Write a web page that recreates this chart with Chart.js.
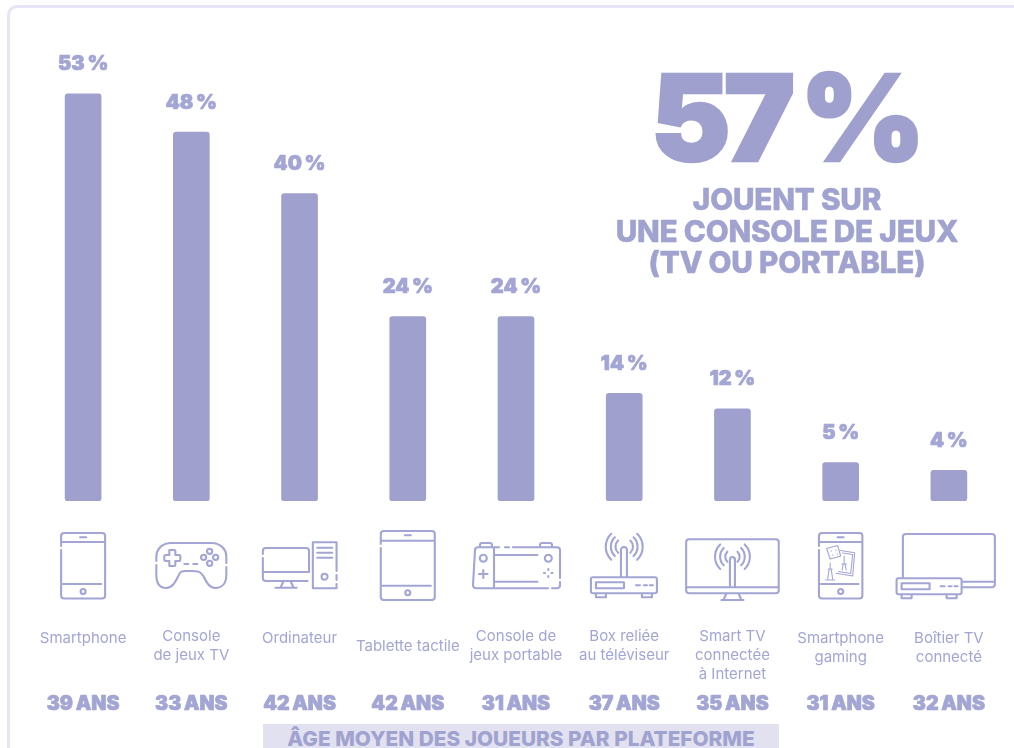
<!DOCTYPE html>
<html lang="fr">
<head>
<meta charset="utf-8">
<title>Plateformes de jeu</title>
<script src="https://cdn.jsdelivr.net/npm/chart.js@4/dist/chart.umd.min.js"></script>
<style>
  html, body { margin: 0; padding: 0; background: #fff; overflow: hidden; }
  #page { position: relative; width: 1014px; height: 748px; overflow: hidden; font-family: Inter, sans-serif; color: #A0A2CF; }
  #frame { position: absolute; left: 7px; top: 5px; width: 1100px; height: 900px; box-sizing: border-box;
           border: 3px solid #E6E5F3; border-radius: 10px; }
  canvas { position: absolute; left: 0; top: 0; }
  #big { position: absolute; left: 584.5px; width: 400px; top: 45px; text-align: center; font-weight: 900;
         font-size: 120px; line-height: 146px; letter-spacing: -7px; word-spacing: -5px; color: #9FA0CD; -webkit-text-stroke: 2.5px #9FA0CD; }
  #sub { position: absolute; left: 587px; width: 400px; top: 184px; text-align: center; font-weight: 800;
         font-size: 29.7px; line-height: 31.5px; letter-spacing: -0.2px; -webkit-text-stroke: 0.5px #A0A2CF; }
  #banner { position: absolute; left: 263px; top: 724px; width: 516px; height: 30px; background: #E1E1F0;
            text-align: center; font-weight: 800; font-size: 20.8px; line-height: 30px; white-space: nowrap; }
</style>
</head>
<body>
<div id="page">
  <div id="frame"></div>
  <canvas id="chart" width="1014" height="748"></canvas>
  <div id="big">57 %</div>
  <div id="sub">JOUENT SUR<br>UNE CONSOLE DE JEUX<br>(TV OU PORTABLE)</div>
  <div id="banner">ÂGE MOYEN DES JOUEURS PAR PLATEFORME</div>
</div>
<script>
const categories = [
  ["Smartphone"],
  ["Console", "de jeux TV"],
  ["Ordinateur"],
  ["Tablette tactile"],
  ["Console de", "jeux portable"],
  ["Box reliée", "au téléviseur"],
  ["Smart TV", "connectée", "à Internet"],
  ["Smartphone", "gaming"],
  ["Boîtier TV", "connecté"],
];
const shares = [53, 48, 40, 24, 24, 14, 12, 5, 4];
const ages = [39, 33, 42, 42, 31, 37, 35, 31, 32];

const BAR = "#9FA0CD";
const INK = "#A3A5D4";

// Aides pour écrire les pictos (x relatif au centre de la barre, y en page)
const circ = (x, y, r) => `M${x + r} ${y}a${r} ${r} 0 1 1 ${-2 * r} 0a${r} ${r} 0 1 1 ${2 * r} 0`;
const rr = (x0, y0, x1, y1, r) =>
  `M${x0 + r} ${y0}H${x1 - r}a${r} ${r} 0 0 1 ${r} ${r}V${y1 - r}a${r} ${r} 0 0 1 ${-r} ${r}H${x0 + r}a${r} ${r} 0 0 1 ${-r} ${-r}V${y0 + r}a${r} ${r} 0 0 1 ${r} ${-r}`;
const waves = (cx, cy, radii) => radii.map(r => {
  const k = r * 0.72;
  return `M${cx - k} ${cy - k}A${r} ${r} 0 0 0 ${cx - k} ${cy + k}M${cx + k} ${cy - k}A${r} ${r} 0 0 1 ${cx + k} ${cy + k}`;
}).join("");
const phone = (h, top, bottom, line1, line2, btn, spk) =>
  `M${-h} ${top + 17}V${bottom - 3}a3 3 0 0 0 3 3H${h - 3}a3 3 0 0 0 3-3V${top + 3}a3 3 0 0 0-3-3H${-h + 3}a3 3 0 0 0-3 3V${top + 13}` +
  `M${-h} ${line1}H${h}M${-h + 2} ${line2}H${h - 4}M-3 ${spk}H3` + circ(0, btn, 2.5);
const box = (x0, x1, y0, y1) =>
  rr(x0, y0, x1, y1, 2) + rr(x0 + 5, y0 + 5, x0 + 33, y0 + 11, 0) +
  `M${x1 - 21} ${y0 + 8}H${x1 - 17}M${x1 - 13} ${y0 + 8}H${x1 - 10}M${x1 - 7} ${y0 + 8}H${x1 - 4}` +
  `M${x0 + 5} ${y1}v4h10v-4M${x1 - 15} ${y1}v4h10v-4`;

const icons = [
  phone(22, 533, 598.5, 542, 584, 591.5, 537.3),
  // manette
  "M-35 561V557C-35 548-28 543-20 543H20C28 543 35 548 35 557V563M35 567V575C35 584 30 588 24 588C18 588 15 582 12 576C9 571 6 571 0 571H-6C-9 571-11 571-13 576C-16 582-19 588-25 588C-31 588-35 584-35 575V565" +
  "M-22 550h5a1 1 0 0 1 1 1v4h4a1 1 0 0 1 1 1v4a1 1 0 0 1-1 1h-4v4a1 1 0 0 1-1 1h-5M-22 550v5h-4a1 1 0 0 0-1 1v4a1 1 0 0 0 1 1h4v5" +
  "M-7 564h4M2 564h4" + circ(18.3, 551.3, 2.6) + circ(12.3, 557.3, 2.6) + circ(24.3, 557.3, 2.6) + circ(18.3, 563.3, 2.6),
  // ordinateur
  "M-36.7 558V578a3 3 0 0 0 3 3H8M-36.7 554V551a3 3 0 0 1 3-3H6.5a3 3 0 0 1 3 3V572H-36.7" +
  "M-16 581l-3 6.7M-9 581l3 6.7M-24 587.7H-3" +
  "M13.3 542.3H37V571M37 575V580M37 584V588.3H13.3V542.3M17.7 547.7H32.7M17.7 552.7H32.7M17.7 557.7H32.7" + circ(25, 576.7, 3),
  phone(27, 531, 600, 540.7, 585.7, 592.7, 535.3),
  // console portable
  "M-22 547.3H-17M-11 547.3H-7M-3 547.3H21M-22 555H21.5M-22 581.7H21.5M-22 588.3H21.5" +
  "M-22 547.3H-38a3 3 0 0 0-3 3L-43 585a3 3 0 0 0 3 3.3H-22ZM-36 547.3V545a2 2 0 0 1 2-2H-26a2 2 0 0 1 2 2V547.3" +
  "M21.5 547.3H41a3 3 0 0 1 3 3L44 578M44 582V585a3 3 0 0 1-3 3.3H36M32 588.3H21.5ZM24 547.3V545a2 2 0 0 1 2-2H34a2 2 0 0 1 2 2V547.3" +
  circ(-32.7, 558.3, 3.5) + "M-37 574H-28.5M-32.7 570V578" + circ(32.3, 558.3, 3.5) +
  "M32.3 569v1M32.3 576v1M28 573h1M35.5 573h1",
  // box
  box(-33.3, 32.7, 577.3, 593.3) + "M-3.3 576.7V550a3 3 0 0 1 6 0V576.7" + waves(0, 546.7, [8.5, 13, 18]),
  // smart TV
  rr(-46.3, 539.3, 46.3, 593.3, 3) + "M-46 587.3H46M-2.5 587.3V559.5a2.5 2.5 0 0 1 5 0V587.3" + waves(0, 556.7, [7, 12, 17]) +
  "M-6 593.3l-3 6.7M6 593.3l3 6.7M-11 600H11",
  phone(21.7, 533, 598.5, 542, 584, 591.5, 537.3),
  // TV + boîtier
  "M-46 578V537a3 3 0 0 1 3-3H43a3 3 0 0 1 3 3V584a3 3 0 0 1-3 3.3H13M13 581.7H46" + box(-52.3, 12.7, 578.3, 594.3),
];

// détails fins du smartphone gaming (dé, carte, pièces)
const iconFine = {
  7: "M-14 548.5L-3 545.5L0 556L-10.5 559ZM-9.5 551h.5M-5 550h.5M-8 555h.5M-3.5 554h.5" +
     "M0 550.5L14 552.7L12 576L-4.5 573.3M2 553L12 554.5L10 573.5L-2 571.5" +
     "M-10.5 563v6M-12.5 569h4M-13 579l1.5-10M-8 579l-1.5-10M-15 580h9M3.5 556v8M1 564h5M1.5 570l1-6M5.5 570l-1-6",
};

const heavyText = (ctx, text, x, y, weight) => {
  ctx.lineWidth = weight;
  ctx.lineJoin = "round";
  ctx.strokeStyle = INK;
  ctx.strokeText(text, x, y);
  ctx.fillText(text, x, y);
};

const platformPlugin = {
  id: "platform",
  afterDatasetsDraw(chart) {
    const { ctx, scales: { x, y } } = chart;
    ctx.save();
    ctx.textAlign = "center";
    ctx.textBaseline = "middle";
    shares.forEach((v, i) => {
      const cx = x.getPixelForValue(i);

      // valeur au-dessus de la barre
      ctx.fillStyle = INK;
      ctx.font = "900 20px Inter";
      heavyText(ctx, `${v}\u202f%`, cx, y.getPixelForValue(v) - 29.5, 0.7);

      // picto
      ctx.save();
      ctx.translate(cx, 0);
      ctx.strokeStyle = INK;
      ctx.lineWidth = 2.1;
      ctx.lineCap = "round";
      ctx.lineJoin = "round";
      ctx.stroke(new Path2D(icons[i]));
      if (iconFine[i]) {
        ctx.lineWidth = 1.1;
        ctx.stroke(new Path2D(iconFine[i]));
      }
      ctx.restore();

      // libellé : 1 ligne à 638, sauf tablette ; 2 ou 3 lignes à partir de 636
      const lines = categories[i];
      let y0 = lines.length === 1 ? 638.5 : 636.8;
      if (i === 3) y0 = 646.5;
      if (i >= 7) y0 = 638.8;
      const step = i >= 7 ? 18.5 : 19;
      ctx.fillStyle = INK;
      ctx.font = "400 15px Inter";
      lines.forEach((l, k) => ctx.fillText(l, cx, y0 + k * step));

      // âge moyen
      ctx.font = "900 19.6px Inter";
      heavyText(ctx, `${ages[i]}\u202fANS`, cx, 704.5, 0.7);
    });
    ctx.restore();
  },
};

new Chart(document.getElementById("chart"), {
  type: "bar",
  data: {
    labels: categories.map(c => c.join(" ")),
    datasets: [{ data: shares, backgroundColor: BAR, borderRadius: 3, borderSkipped: false, barThickness: 36 }],
  },
  options: {
    responsive: false,
    animation: false,
    layout: { padding: { left: 29, right: 11, top: 40, bottom: 247 } },
    plugins: { legend: { display: false }, tooltip: { enabled: false } },
    scales: {
      x: { display: false },
      y: { display: false, min: 0, max: 60 },
    },
  },
  plugins: [platformPlugin],
});
</script>
</body>
</html>
